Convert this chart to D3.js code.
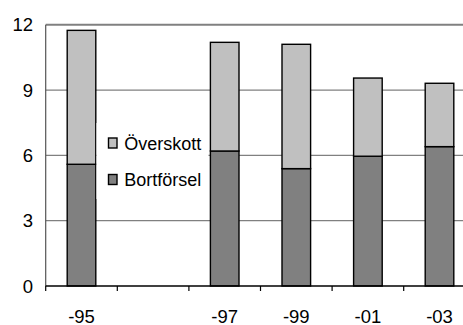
<!DOCTYPE html>
<html>
<head>
<meta charset="utf-8">
<script src="https://cdn.jsdelivr.net/npm/d3@7"></script>
<style>
  html, body { margin: 0; padding: 0; background: #fff; }
  svg { display: block; font-family: "Liberation Sans", Arial, sans-serif; }
</style>
</head>
<body>
<svg id="chart" width="463" height="325"></svg>
<script>
const categories = ["-95", "", "-97", "-99", "-01", "-03"];
const bortforsel = [5.59, null, 6.2, 5.39, 5.96, 6.4];
const overskott = [6.15, null, 4.99, 5.71, 3.59, 2.91];
const yTicks = [0, 3, 6, 9, 12];
const seriesNames = ["Överskott", "Bortförsel"];
const colors = { "Överskott": "#c0c0c0", "Bortförsel": "#808080" };

(function () {
const svg = d3.select("#chart");
const pLeft = 45.7, pRight = 475.3, pTop = 24.7, pBottom = 286;

const x = d3.scaleBand().domain(categories).range([pLeft, pRight]).padding(0);
const y = d3.scaleLinear().domain([0, 12]).range([pBottom, pTop]);

svg.append("g").selectAll("line").data(yTicks.filter(d => d > 0)).join("line")
  .attr("x1", pLeft).attr("x2", pRight)
  .attr("y1", d => y(d)).attr("y2", d => y(d))
  .attr("stroke", "#808080")
  .attr("stroke-width", d => d === 12 ? 2 : 1.2);

const rows = categories.map((c, i) => ({ cat: c, bort: bortforsel[i], over: overskott[i] }))
  .filter(d => d.bort != null);

const barW = 28.6;
const g = svg.append("g");
rows.forEach(d => {
  const cx = x(d.cat) + x.bandwidth() / 2;
  g.append("rect")
    .attr("x", cx - barW / 2).attr("width", barW)
    .attr("y", y(d.bort)).attr("height", y(0) - y(d.bort))
    .attr("fill", colors["Bortförsel"]).attr("stroke", "#000").attr("stroke-width", 1.4);
  g.append("rect")
    .attr("x", cx - barW / 2).attr("width", barW)
    .attr("y", y(d.bort + d.over)).attr("height", y(d.bort) - y(d.bort + d.over))
    .attr("fill", colors["Överskott"]).attr("stroke", "#000").attr("stroke-width", 1.4);
});

svg.append("line").attr("x1", pLeft).attr("x2", pLeft).attr("y1", pTop).attr("y2", pBottom)
  .attr("stroke", "#555").attr("stroke-width", 1.2);

svg.append("g").selectAll("text").data(yTicks).join("text")
  .attr("x", 33).attr("y", d => y(d) + 6.5)
  .attr("text-anchor", "end")
  .attr("font-size", 18.5)
  .attr("fill", "#000")
  .text(d => d);

const xAxis = svg.append("g");
xAxis.append("line").attr("x1", pLeft).attr("x2", pRight).attr("y1", pBottom).attr("y2", pBottom)
  .attr("stroke", "#000").attr("stroke-width", 1.4);
const boundaries = categories.map(c => x(c));
xAxis.selectAll("line.tick").data(boundaries).join("line")
  .attr("class", "tick")
  .attr("x1", d => d).attr("x2", d => d)
  .attr("y1", pBottom).attr("y2", pBottom + 5)
  .attr("stroke", "#000").attr("stroke-width", 1.2);
xAxis.selectAll("text").data(categories).join("text")
  .attr("x", d => x(d) + x.bandwidth() / 2)
  .attr("y", 322.5)
  .attr("text-anchor", "middle")
  .attr("font-size", 18.5)
  .attr("fill", "#000")
  .text(d => d);

const lg = svg.append("g");
lg.append("rect").attr("x", 96.5).attr("y", 123).attr("width", 112).attr("height", 76).attr("fill", "#fff");
seriesNames.forEach((name, i) => {
  const yy = 138 + i * 36.5;
  lg.append("rect").attr("x", 108.5).attr("y", yy).attr("width", 8.5).attr("height", 10)
    .attr("fill", colors[name]).attr("stroke", "#000").attr("stroke-width", 1.4);
  lg.append("text").attr("x", 124.3).attr("y", yy + 11.5)
    .attr("font-size", 18).attr("fill", "#000").text(name);
});
})();
</script>
</body>
</html>
